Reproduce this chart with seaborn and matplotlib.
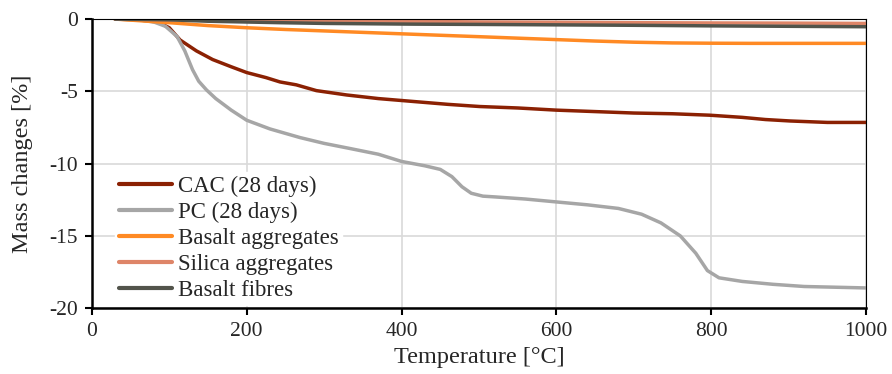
import pandas as pd
import seaborn as sns
import matplotlib.pyplot as plt

# values
cac_T = [30, 60, 85, 100, 114, 135, 156, 180, 200, 225, 243, 264, 290, 329, 370, 415, 460, 501, 550, 600, 650, 700, 750, 798, 840, 870, 902, 950, 1000]
cac_m = [0, -0.05, -0.2, -0.6, -1.45, -2.2, -2.8, -3.3, -3.7, -4.05, -4.35, -4.55, -4.95, -5.25, -5.5, -5.7, -5.9, -6.05, -6.15, -6.3, -6.4, -6.5, -6.55, -6.65, -6.8, -6.95, -7.05, -7.15, -7.15]

pc_T = [30, 60, 80, 95, 110, 120, 130, 138, 148, 160, 180, 200, 230, 269, 300, 333, 370, 400, 430, 450, 465, 478, 490, 505, 520, 560, 600, 640, 680, 710, 735, 760, 780, 795, 810, 840, 880, 920, 960, 1000]
pc_m = [0, -0.05, -0.2, -0.5, -1.2, -2.2, -3.5, -4.3, -4.9, -5.5, -6.3, -7.0, -7.6, -8.2, -8.6, -8.95, -9.35, -9.85, -10.15, -10.4, -10.9, -11.6, -12.05, -12.25, -12.3, -12.45, -12.65, -12.85, -13.1, -13.5, -14.1, -15.0, -16.2, -17.4, -17.9, -18.15, -18.35, -18.5, -18.55, -18.6]

bas_agg_T = [30, 100, 150, 200, 250, 300, 375, 400, 450, 501, 550, 600, 650, 700, 750, 798, 850, 900, 1000]
bas_agg_m = [0, -0.25, -0.45, -0.6, -0.72, -0.82, -0.97, -1.02, -1.12, -1.22, -1.32, -1.42, -1.52, -1.6, -1.65, -1.67, -1.68, -1.68, -1.68]

silica_T = [30, 100, 200, 300, 400, 500, 600, 700, 800, 900, 1000]
silica_m = [0, -0.05, -0.08, -0.12, -0.15, -0.2, -0.22, -0.25, -0.27, -0.28, -0.3]

fibre_T = [30, 100, 150, 243, 300, 415, 500, 600, 700, 800, 900, 1000]
fibre_m = [0, -0.05, -0.15, -0.25, -0.3, -0.35, -0.37, -0.4, -0.43, -0.47, -0.5, -0.53]

names = ['CAC (28 days)', 'PC (28 days)', 'Basalt aggregates', 'Silica aggregates', 'Basalt fibres']
colours = ['#8B2103', '#A6A6A6', '#FF8A24', '#DE8568', '#52544B']

frames = []
for name, T, m in zip(names, [cac_T, pc_T, bas_agg_T, silica_T, fibre_T],
                      [cac_m, pc_m, bas_agg_m, silica_m, fibre_m]):
    frames.append(pd.DataFrame({'T': T, 'm': m, 'series': name}))
df = pd.concat(frames, ignore_index=True)

sns.set_style('white')
plt.rcParams['font.family'] = ['Liberation Serif', 'DejaVu Serif']
plt.rcParams['axes.unicode_minus'] = False

fig = plt.figure(figsize=(8.92, 3.74), dpi=100)
ax = fig.add_axes([0.103, 0.176, 0.868, 0.773])

sns.lineplot(data=df, x='T', y='m', hue='series', hue_order=names,
             palette=dict(zip(names, colours)), estimator=None, sort=False,
             linewidth=2.5, ax=ax)

ax.set_xlim(0, 1000)
ax.set_ylim(-20, 0)
ax.set_xticks(range(0, 1001, 200))
ax.set_yticks(range(-20, 1, 5))
ax.grid(True, color='#D9D9D9', linewidth=1.2)
ax.set_axisbelow(True)

for side in ['left', 'bottom']:
    ax.spines[side].set_color('black')
    ax.spines[side].set_linewidth(1.8)
for side in ['top', 'right']:
    ax.spines[side].set_color('black')
    ax.spines[side].set_linewidth(0.8)

ax.tick_params(axis='both', direction='out', length=5, width=1.5,
               labelsize=15.5, color='black', left=True, bottom=True, pad=5)
ax.set_xlabel('Temperature [°C]', fontsize=17.5, labelpad=4)
ax.set_ylabel('Mass changes [%]', fontsize=17.5, labelpad=12)

leg = ax.legend(loc='lower left', bbox_to_anchor=(0.03, 0.012), frameon=True,
                fontsize=16.5, handlelength=2.35, handletextpad=0.25,
                labelspacing=0.22, borderaxespad=0.0, borderpad=0.15)
leg.get_frame().set_edgecolor('white')
leg.get_frame().set_facecolor('white')
leg.get_frame().set_alpha(1)
for line in leg.get_lines():
    line.set_linewidth(3)

fig.savefig('out.png', dpi=100)
